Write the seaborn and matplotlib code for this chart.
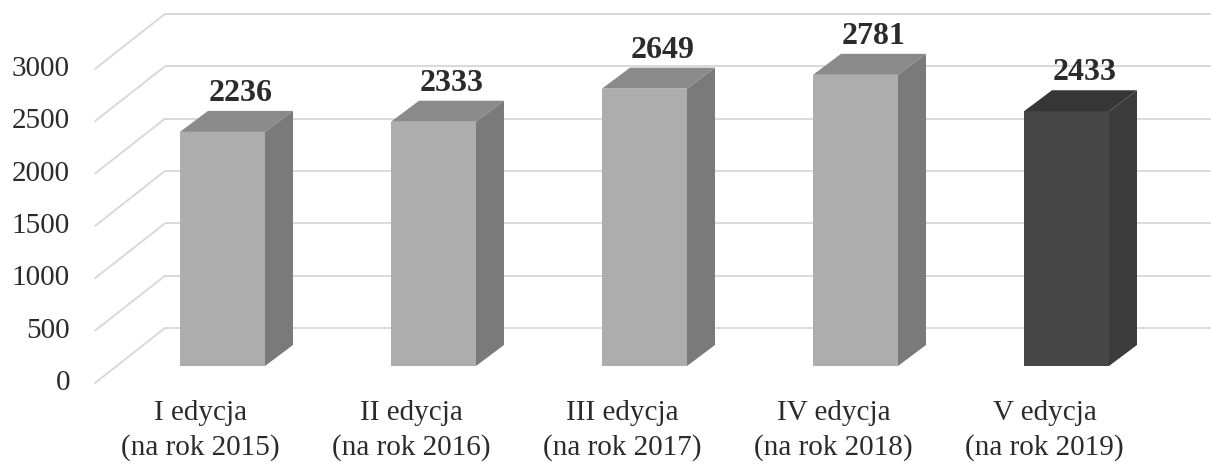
import matplotlib
matplotlib.use("Agg")
import matplotlib.pyplot as plt
import seaborn as sns
from matplotlib.patches import Polygon

# ---- data ----
categories = ["I edycja\n(na rok 2015)", "II edycja\n(na rok 2016)", "III edycja\n(na rok 2017)",
              "IV edycja\n(na rok 2018)", "V edycja\n(na rok 2019)"]
values = [2236, 2333, 2649, 2781, 2433]
y_ticks = [0, 500, 1000, 1500, 2000, 2500, 3000]

# ---- style ----
front_colors = ["#adadad", "#adadad", "#adadad", "#adadad", "#474747"]
side_colors = ["#7a7a7a", "#7a7a7a", "#7a7a7a", "#7a7a7a", "#3c3c3c"]
top_colors = ["#8a8a8a", "#8a8a8a", "#8a8a8a", "#8a8a8a", "#363636"]
grid_color = "#d9d9d9"
text_color = "#2b2b2b"

sns.set_theme(style="white")
plt.rcParams["font.family"] = ["Liberation Serif", "DejaVu Serif"]

W, H, DPI = 1211, 465, 100
PX_PER_CAT = 211.0
PX_PER_UNIT = 0.1047
X0_PX = 222.5          # pixel x of category 0 (front plane of bars)
Y0_PX = 366.0          # pixel y (from top) of value 0 on bars' front plane

def px_x(p):
    return p / PX_PER_CAT

def px_y(p):
    return p / PX_PER_UNIT

# depth offsets (pixels): bar depth, wall front relative to bar front, back wall relative to bar front
BAR_D = (28, 21)
WALL_FRONT = (-22, -17)
WALL_BACK = (48, 38)

fig = plt.figure(figsize=(W / DPI, H / DPI), dpi=DPI)
ax = fig.add_axes([0, 0, 1, 1])

sns.barplot(x=categories, y=values, hue=categories, palette=front_colors, width=85 / PX_PER_CAT,
            saturation=1, legend=False, linewidth=0, ax=ax, zorder=3)

ax.set_xlim(-X0_PX / PX_PER_CAT, (W - X0_PX) / PX_PER_CAT)
ax.set_ylim(-(H - Y0_PX) / PX_PER_UNIT, Y0_PX / PX_PER_UNIT)
ax.axis("off")

n = len(categories)
left_wall = -0.5
xmax = ax.get_xlim()[1]

# gridlines: back wall horizontals + left wall diagonals
for v in y_ticks:
    xb = left_wall + px_x(WALL_BACK[0])
    yb = v + px_y(WALL_BACK[1])
    xf = left_wall + px_x(WALL_FRONT[0])
    yf = v + px_y(WALL_FRONT[1])
    ax.plot([xb, xmax + 1], [yb, yb], color=grid_color, lw=1.4, zorder=1, solid_capstyle="butt")
    ax.plot([xf, xb], [yf, yb], color=grid_color, lw=1.4, zorder=1, solid_capstyle="round")
    ax.text(xf - px_x(25), yf, f"{v}", ha="right", va="center", fontsize=21, color=text_color)

# 3D faces and value labels
ddx, ddy = px_x(BAR_D[0]), px_y(BAR_D[1])
for i, patch in enumerate(ax.patches[:n]):
    x0 = patch.get_x()
    w = patch.get_width()
    h = patch.get_height()
    x1 = x0 + w
    side = Polygon([(x1, 0), (x1 + ddx, ddy), (x1 + ddx, h + ddy), (x1, h)],
                   closed=True, facecolor=side_colors[i], edgecolor="none", zorder=3)
    top = Polygon([(x0, h), (x1, h), (x1 + ddx, h + ddy), (x0 + ddx, h + ddy)],
                  closed=True, facecolor=top_colors[i], edgecolor="none", zorder=3)
    ax.add_patch(side)
    ax.add_patch(top)
    cx = x0 + w / 2 + ddx / 2 + px_x(4)
    ax.text(cx, h + ddy + px_y(10), f"{values[i]}", ha="center", va="baseline",
            fontsize=23, fontweight="bold", color=text_color, zorder=5)

# category labels
for i, lab in enumerate(categories):
    ax.text(i + px_x(WALL_FRONT[0]), px_y(WALL_FRONT[1]) - px_y(17), lab, ha="center", va="top",
            fontsize=21, color=text_color, linespacing=1.38)

fig.savefig("out.png", dpi=DPI)
